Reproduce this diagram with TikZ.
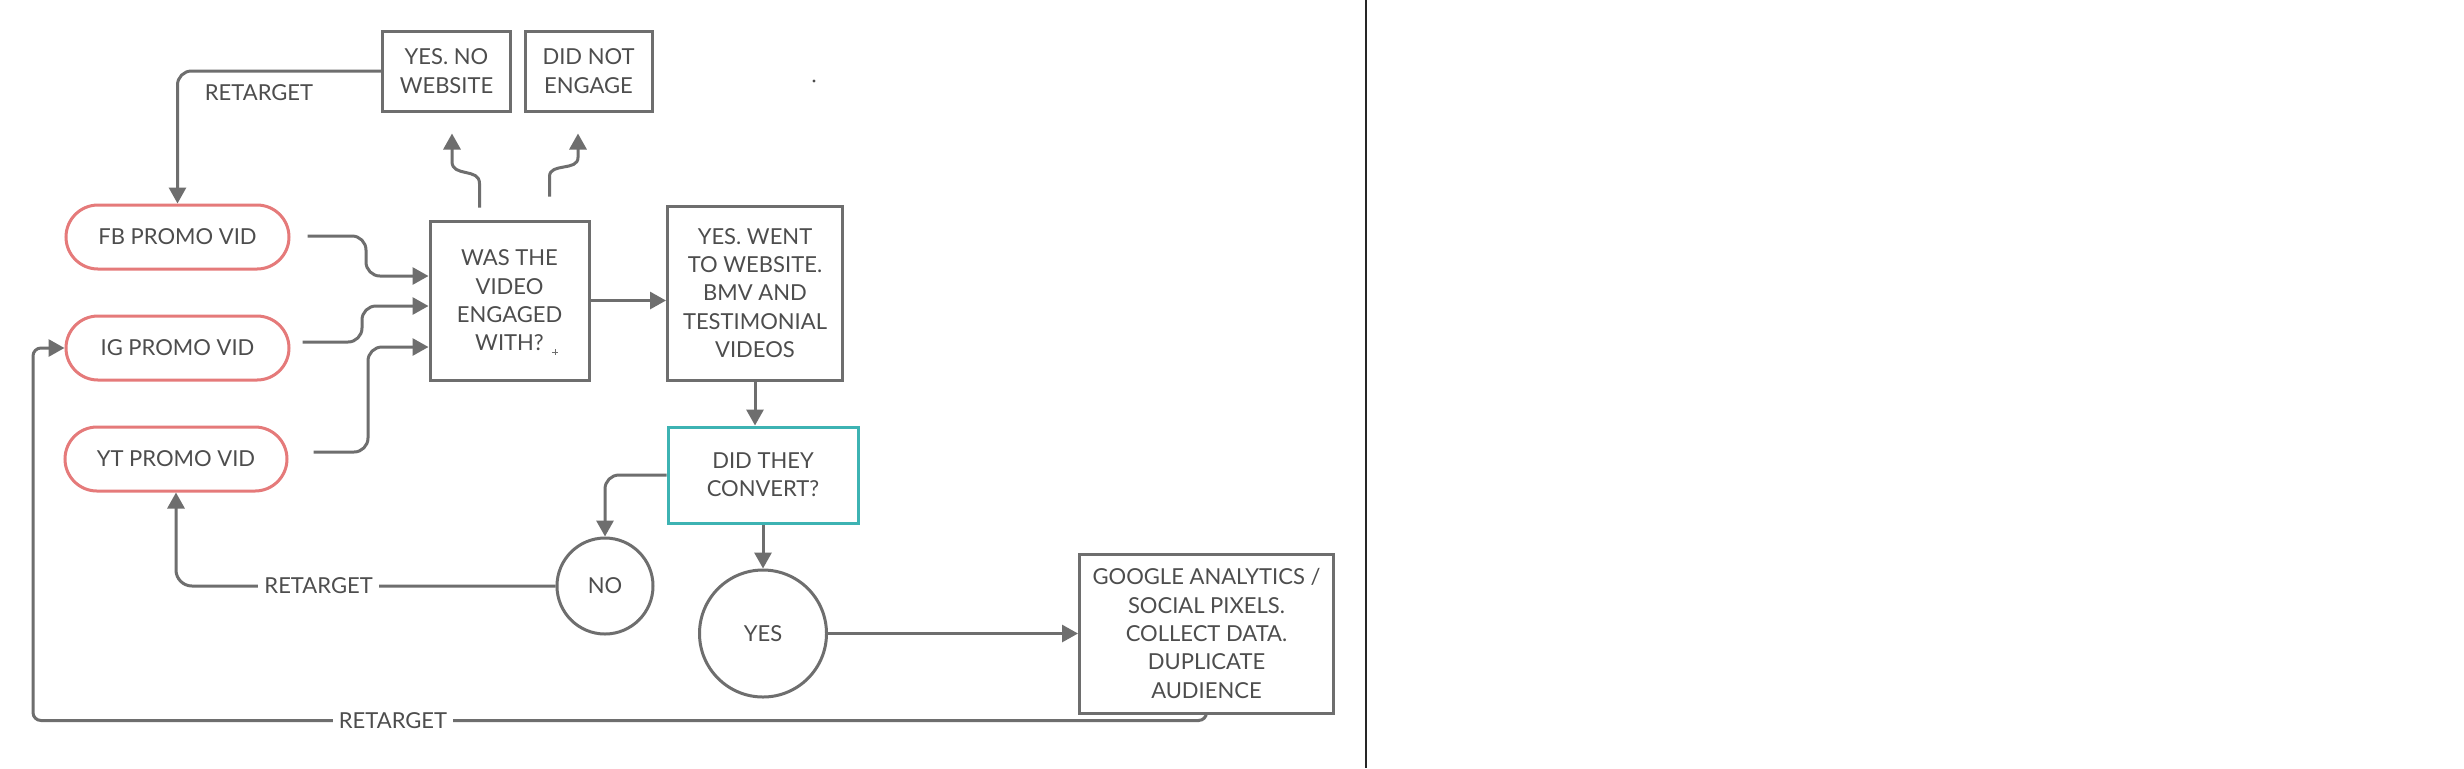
\documentclass[tikz,border=0pt]{standalone}
\usepackage{fontspec}
\setmainfont{Lato}
\usetikzlibrary{arrows.meta,calc}
\definecolor{lc}{HTML}{6E6E6E}
\definecolor{tc}{HTML}{4D4D4D}
\definecolor{pinkc}{HTML}{E57A7A}
\definecolor{tealc}{HTML}{3DB3B3}
\begin{document}
\begin{tikzpicture}[x=0.5pt,y=-0.5pt,
  every node/.style={font=\fontsize{11}{14.15}\selectfont, text=tc},
  boxnode/.style={draw=lc, line width=1.5pt, align=center, inner sep=0pt, fill=white},
  pillnode/.style={draw=pinkc, line width=1.5pt, rounded corners=16pt, minimum width=111.5pt, minimum height=32pt, inner sep=0pt},
  circnode/.style={circle, draw=lc, line width=1.5pt, inner sep=0pt},
  conn/.style={draw=lc, line width=1.5pt, -{Triangle[length=8pt,width=8.5pt]}},
  lbl/.style={fill=white, inner xsep=3pt, inner ysep=1pt}]
\useasboundingbox (0,0) rectangle (2464,768);
\fill[white] (0,0) rectangle (2464,768);

% nodes
\node[boxnode, minimum width=64pt, minimum height=40pt] (yesno) at (446.5,71) {YES. NO\\WEBSITE};
\node[boxnode, minimum width=63.5pt, minimum height=40pt] (didnot) at (588.5,71) {DID NOT\\ENGAGE};
\node[pillnode] (fb) at (177.5,237) {FB PROMO VID};
\node[pillnode] (ig) at (177.5,348) {IG PROMO VID};
\node[pillnode, minimum width=111pt] (yt) at (176,459) {YT PROMO VID};
\node[boxnode, minimum width=79.5pt, minimum height=79.5pt] (was) at (509.5,300.5) {WAS THE\\VIDEO\\ENGAGED\\WITH?};
\node[boxnode, minimum width=87.5pt, minimum height=87pt] (yeswent) at (755,293) {YES. WENT\\TO WEBSITE.\\BMV AND\\TESTIMONIAL\\VIDEOS};
\node[boxnode, draw=tealc, minimum width=95pt, minimum height=48pt] (didthey) at (763,475) {DID THEY\\CONVERT?};
\node[circnode, minimum size=48pt] (no) at (605,586) {NO};
\node[circnode, minimum size=63.5pt] (yes) at (763,633.5) {YES};
\node[boxnode, minimum width=127pt, minimum height=79.5pt] (ga) at (1206.5,633.5) {GOOGLE ANALYTICS /\\SOCIAL PIXELS.\\COLLECT DATA.\\DUPLICATE\\AUDIENCE};
\node (rt1) at (259,93) {RETARGET};

% connectors
\draw[conn, rounded corners=7pt] (yesno.west) -| (fb.north);

\coordinate (fbs) at ($(fb.east)+(17,-1)$);
\coordinate (fbm) at (366,276);
\draw[conn, rounded corners=7pt] (fbs) -| (fbm) -- (fbm -| was.west);
\coordinate (igs) at ($(ig.east)+(12,-6)$);
\coordinate (igm) at (362,306);
\draw[conn, rounded corners=7pt] (igs) -| (igm) -- (igm -| was.west);
\coordinate (yts) at ($(yt.east)+(25,-7)$);
\coordinate (ytm) at (368,347);
\draw[conn, rounded corners=7pt] (yts) -| (ytm) -- (ytm -| was.west);

\draw[conn] (was.east) -- (was.east -| yeswent.west);

\coordinate (u1s) at ($(was.north)+(-30,-12)$);
\coordinate (u1e) at ($(yesno.south)+(5.5,21)$);
\draw[conn] (u1s) -- ($(u1s)+(0,-24)$) .. controls ($(u1s)+(0,-40)$) and ($(u1e)+(0,44)$) .. ($(u1e)+(0,28)$) -- (u1e);
\coordinate (u2s) at ($(was.north)+(40,-23)$);
\coordinate (u2e) at ($(didnot.south)+(-10.5,21)$);
\draw[conn] (u2s) -- ($(u2s)+(0,-20)$) .. controls ($(u2s)+(0,-34)$) and ($(u2e)+(0,38)$) .. ($(u2e)+(0,24)$) -- (u2e);

\draw[conn] (yeswent.south) -- (yeswent.south |- didthey.north);
\draw[conn, rounded corners=7pt] (didthey.west) -| (no.north);
\draw[conn] (didthey.south) -- (yes.north);
\draw[conn, rounded corners=8pt] (no.west) -| (yt.south);
\node[lbl] (rt2) at (318.6,586) {RETARGET};
\draw[conn] (yes.east) -- (ga.west);
\coordinate (bl) at (33,720.5);
\coordinate (tl) at (33,348);
\draw[conn, rounded corners=4pt] (ga.south) |- (bl) -- (tl) -- (ig.west);
\node[lbl] (rt3) at (393,720.5) {RETARGET};

% small marks
\draw[lc, line width=0.5pt] (552,352) -- (558,352) (555,349) -- (555,355);
\fill[tc] (814,81) circle (0.8pt);

% right divider
\draw[black!85, line width=1pt] (1365.5,0) -- (1365.5,768);
\end{tikzpicture}
\end{document}
